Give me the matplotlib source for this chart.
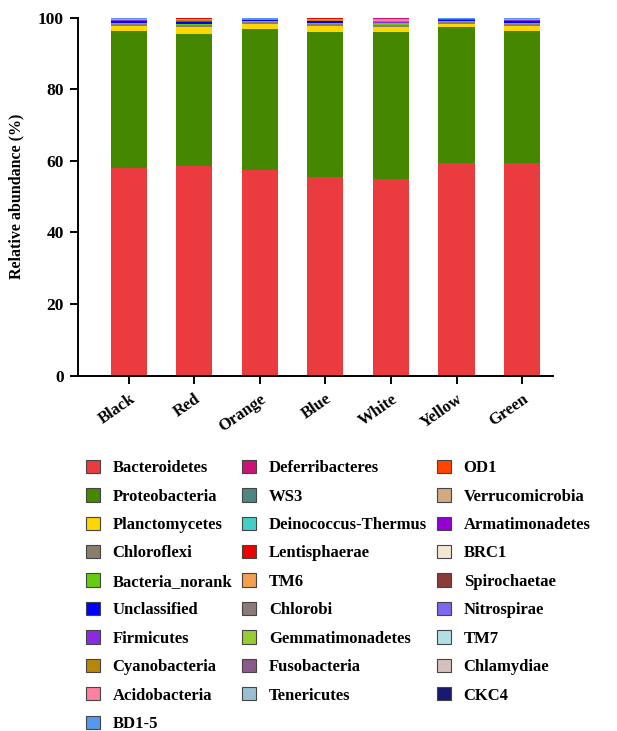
import numpy as np
import matplotlib
matplotlib.use("Agg")
import matplotlib.pyplot as plt
from matplotlib.patches import Patch

plt.rcParams['font.family'] = ['Liberation Serif', 'DejaVu Serif']
plt.rcParams['font.weight'] = 'bold'

samples = ["Black", "Red", "Orange", "Blue", "White", "Yellow", "Green"]

# relative abundance (%) per phylum, one value per sample
phyla = [
    "Bacteroidetes", "Proteobacteria", "Planctomycetes", "Chloroflexi",
    "Bacteria_norank", "Unclassified", "Firmicutes", "Cyanobacteria",
    "Acidobacteria", "BD1-5", "Deferribacteres", "WS3", "Deinococcus-Thermus",
    "Lentisphaerae", "TM6", "Chlorobi", "Gemmatimonadetes", "Fusobacteria",
    "Tenericutes", "OD1", "Verrucomicrobia", "Armatimonadetes", "BRC1",
    "Spirochaetae", "Nitrospirae", "TM7", "Chlamydiae", "CKC4",
]

bacteroidetes   = [58.0, 58.5, 57.3, 55.5, 55.0, 59.5, 59.3]
proteobacteria  = [38.2, 36.8, 39.6, 40.5, 40.9, 37.9, 37.0]
planctomycetes  = [1.3, 2.1, 1.4, 1.6, 1.5, 0.9, 1.3]
chloroflexi     = [0.6, 0.5, 0.5, 0.6, 0.6, 0.5, 0.6]
bacteria_norank = [0.4, 0.4, 0.3, 0.4, 0.4, 0.3, 0.4]
unclassified    = [0.5, 0.4, 0.2, 0.3, 0.2, 0.2, 0.4]
firmicutes      = [0.2, 0.3, 0.1, 0.2, 0.2, 0.2, 0.2]
cyanobacteria   = [0.2, 0.2, 0.1, 0.2, 0.2, 0.1, 0.2]
acidobacteria   = [0.3, 0.3, 0.2, 0.2, 0.5, 0.1, 0.3]
bd1_5           = [0.1, 0.1, 0.1, 0.1, 0.1, 0.1, 0.1]
deferribacteres = [0.05, 0.1, 0.05, 0.1, 0.15, 0.05, 0.05]
ws3             = [0.02, 0.02, 0.01, 0.02, 0.02, 0.01, 0.02]
deinococcus     = [0.01, 0.01, 0.01, 0.01, 0.01, 0.01, 0.01]
lentisphaerae   = [0.01, 0.01, 0.01, 0.01, 0.01, 0.01, 0.01]
tm6             = [0.01, 0.01, 0.01, 0.01, 0.01, 0.01, 0.01]
chlorobi        = [0.02, 0.02, 0.01, 0.02, 0.02, 0.01, 0.02]
gemmatimonadetes = [0.01, 0.01, 0.01, 0.01, 0.01, 0.01, 0.01]
fusobacteria    = [0.01, 0.01, 0.01, 0.01, 0.01, 0.01, 0.01]
tenericutes     = [0.01, 0.01, 0.01, 0.01, 0.01, 0.01, 0.01]
od1             = [0.01, 0.01, 0.01, 0.01, 0.01, 0.01, 0.01]
verrucomicrobia = [0.01, 0.01, 0.01, 0.01, 0.01, 0.01, 0.01]
armatimonadetes = [0.01, 0.01, 0.01, 0.01, 0.01, 0.01, 0.01]
brc1            = [0.01, 0.01, 0.01, 0.01, 0.01, 0.01, 0.01]
spirochaetae    = [0.01, 0.01, 0.01, 0.01, 0.01, 0.01, 0.01]
nitrospirae     = [0.01, 0.01, 0.01, 0.01, 0.01, 0.01, 0.01]
tm7             = [0.01, 0.01, 0.01, 0.01, 0.01, 0.01, 0.01]
chlamydiae      = [0.01, 0.01, 0.01, 0.01, 0.01, 0.01, 0.01]
ckc4            = [0.01, 0.01, 0.01, 0.01, 0.01, 0.01, 0.01]

values = [
    bacteroidetes, proteobacteria, planctomycetes, chloroflexi,
    bacteria_norank, unclassified, firmicutes, cyanobacteria,
    acidobacteria, bd1_5, deferribacteres, ws3, deinococcus,
    lentisphaerae, tm6, chlorobi, gemmatimonadetes, fusobacteria,
    tenericutes, od1, verrucomicrobia, armatimonadetes, brc1,
    spirochaetae, nitrospirae, tm7, chlamydiae, ckc4,
]

colors = [
    "#EA3C3F", "#468700", "#FFD700", "#8B7D6B",
    "#66CC11", "#0000FF", "#8A2BE2", "#B8860B",
    "#FF7FA0", "#5599EE", "#CC1177", "#4F8585", "#40D0C8",
    "#EE0000", "#F4A050", "#8B7B78", "#99CC33", "#8B5A8B",
    "#99C0D0", "#FF4500", "#D2AA7D", "#9400D3", "#F5E6D3",
    "#8B3A3A", "#7B68EE", "#B0E0E6", "#D8BFBF", "#191970",
]

fig = plt.figure(figsize=(6.17, 7.31), dpi=100)
ax = fig.add_axes([0.126, 0.486, 0.770, 0.49])

x = np.arange(len(samples))
bottom = np.zeros(len(samples))
for vals, col in zip(values, colors):
    ax.bar(x, vals, width=0.55, bottom=bottom, color=col, linewidth=0)
    bottom += np.array(vals)

ax.set_xlim(-0.78, 6.47)
ax.set_ylim(0, 100)
ax.set_yticks([0, 20, 40, 60, 80, 100])
ax.set_xticks(x)
ax.set_xticklabels(samples, rotation=35, ha='right', rotation_mode='anchor',
                   fontsize=12, fontweight='bold')
ax.tick_params(axis='y', labelsize=12.5, width=1.4, length=6, pad=4)
ax.tick_params(axis='x', width=1.4, length=6, pad=5)
for lab in ax.get_yticklabels():
    lab.set_fontweight('bold')
ax.set_ylabel("Relative abundance (%)", fontsize=11.5, fontweight='bold',
              labelpad=10)
ax.spines['top'].set_visible(False)
ax.spines['right'].set_visible(False)
ax.spines['left'].set_linewidth(1.4)
ax.spines['bottom'].set_linewidth(1.4)

handles = [Patch(facecolor=c, edgecolor='#444444', linewidth=0.8) for c in colors]
fig.legend(handles, phyla, loc='upper left', bbox_to_anchor=(0.139, 0.371),
           ncol=3, frameon=False, handlelength=0.85,
           handleheight=0.85, handletextpad=0.75, labelspacing=0.72,
           columnspacing=0.6, borderaxespad=0, borderpad=0,
           prop={'weight': 'bold', 'size': 12})

fig.savefig("out.png", dpi=100)
